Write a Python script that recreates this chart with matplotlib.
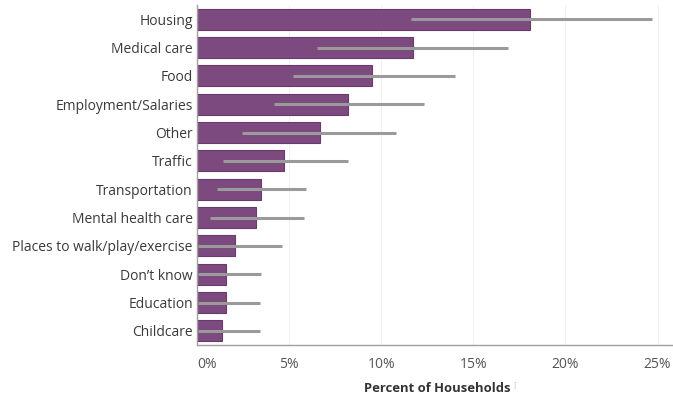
import matplotlib
matplotlib.use("Agg")
import matplotlib.pyplot as plt

categories = ["Housing", "Medical care", "Food", "Employment/Salaries", "Other",
              "Traffic", "Transportation", "Mental health care",
              "Places to walk/play/exercise", "Don\u2019t know", "Education", "Childcare"]
percent = [18.1, 11.7, 9.5, 8.2, 6.7, 4.7, 3.5, 3.2, 2.05, 1.6, 1.55, 1.35]
ci_low = [11.6, 6.5, 5.2, 4.2, 2.45, 1.4, 1.1, 0.7, 0.05, 0.05, 0.05, 0.05]
ci_high = [24.7, 16.9, 14.0, 12.3, 10.8, 8.2, 5.9, 5.8, 4.6, 3.5, 3.4, 3.4]
xticks = [0, 5, 10, 15, 20, 25]
xtick_labels = ["0%", "5%", "10%", "15%", "20%", "25%"]

plt.rcParams["font.family"] = ["Open Sans", "DejaVu Sans"]

fig = plt.figure(figsize=(6.73, 3.96), dpi=100)
ax = fig.add_axes([0.2927, 0.1288, 0.7063, 0.8582])

y = list(range(len(categories)))
ax.barh(y, percent, height=0.74, color="#7c4a7e", edgecolor="#6a3a6c",
        linewidth=0.8, zorder=2)
ax.hlines(y, ci_low, ci_high, color="#9a9a9a", linewidth=2.2, zorder=3)

ax.set_ylim(len(categories) - 0.5, -0.5)
ax.set_xlim(0, 25.8)
ax.set_yticks(y)
ax.set_yticklabels(categories, fontsize=10, color="#3a3a3a")
ax.set_xticks(xticks)
ax.set_xticklabels(xtick_labels, fontsize=10, color="#555555")
ax.get_xticklabels()[0].set_horizontalalignment("left")
ax.tick_params(axis="both", length=0)
ax.tick_params(axis="y", pad=3)
ax.tick_params(axis="x", pad=9)

ax.grid(axis="x", color="#f0f0f0", linewidth=0.8, zorder=0)
ax.set_axisbelow(True)
for side in ["top", "right"]:
    ax.spines[side].set_visible(False)
for side in ["left", "bottom"]:
    ax.spines[side].set_color("#a0a0a0")
    ax.spines[side].set_linewidth(1.0)

fig.text(0.649, 1 - 388 / 396, "Percent of Households", fontsize=9.4,
         fontweight="bold", color="#333333", ha="center", va="center")
fig.text(0.762, 1 - 386 / 396, "\u2308", fontsize=6, color="#c8c8c8",
         ha="left", va="center")

fig.savefig("out.png", dpi=100)
